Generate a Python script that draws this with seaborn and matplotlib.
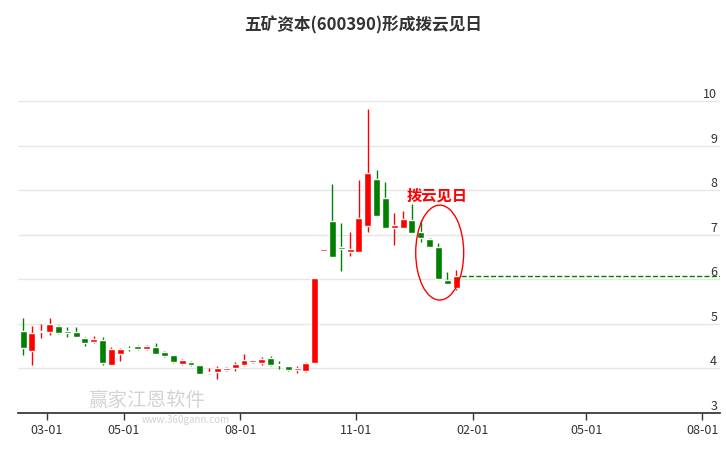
import matplotlib
matplotlib.use("Agg")
import matplotlib.dates as mdates
import matplotlib.pyplot as plt
import numpy as np
import pandas as pd
import seaborn as sns
from matplotlib.patches import Ellipse

sns.set_theme(style="white")
plt.rcParams["font.family"] = ["Noto Sans CJK SC", "DejaVu Sans"]

# weekly candles
dates = pd.date_range("2023-02-10", periods=50, freq="7D")
opens = [4.84, 4.39, 4.82, 4.82, 4.96, 4.84, 4.82, 4.68, 4.60, 4.64,
         4.08, 4.33, 4.46, 4.50, 4.44, 4.48, 4.37, 4.30, 4.10, 4.15,
         4.08, 3.90, 3.92, 3.97, 4.01, 4.08, 4.15, 4.12, 4.24, 4.10,
         4.06, 3.97, 3.94, 4.12, 6.64, 7.31, 6.73, 6.62, 6.62, 7.20,
         8.26, 7.83, 7.16, 7.16, 7.34, 7.07, 6.91, 6.73, 5.99, 5.81]
closes = [4.46, 4.80, 4.85, 5.00, 4.80, 4.80, 4.71, 4.57, 4.66, 4.12,
          4.44, 4.44, 4.44, 4.44, 4.50, 4.33, 4.28, 4.15, 4.19, 4.08,
          3.88, 3.92, 4.01, 4.01, 4.10, 4.19, 4.17, 4.21, 4.08, 4.08,
          3.97, 3.99, 4.12, 6.03, 6.64, 6.51, 6.69, 6.69, 7.38, 8.39,
          7.43, 7.16, 7.22, 7.36, 7.04, 6.93, 6.73, 6.01, 5.90, 6.08]
highs = [5.13, 4.96, 5.00, 5.13, 4.98, 4.93, 4.93, 4.71, 4.73, 4.71,
         4.48, 4.46, 4.50, 4.53, 4.53, 4.57, 4.39, 4.30, 4.21, 4.17,
         4.08, 4.01, 4.06, 4.03, 4.15, 4.33, 4.19, 4.26, 4.28, 4.17,
         4.06, 4.06, 4.15, 6.03, 6.64, 8.15, 7.27, 7.07, 8.24, 9.83,
         8.46, 8.19, 7.49, 7.54, 7.70, 7.34, 6.93, 6.82, 6.17, 6.21]
lows = [4.30, 4.08, 4.68, 4.75, 4.78, 4.70, 4.71, 4.50, 4.57, 4.08,
        4.08, 4.17, 4.40, 4.42, 4.42, 4.33, 4.26, 4.12, 4.08, 4.06,
        3.88, 3.88, 3.76, 3.95, 3.95, 4.06, 4.12, 4.08, 4.06, 3.99,
        3.95, 3.90, 3.92, 4.12, 6.64, 6.51, 6.19, 6.53, 6.62, 7.07,
        7.43, 7.16, 6.78, 7.16, 7.04, 6.84, 6.73, 6.01, 5.90, 5.76]

tick_dates = ["2023-03-01", "2023-05-01", "2023-08-01", "2023-11-01",
              "2024-02-01", "2024-05-01", "2024-08-01"]
tick_labels = ["03-01", "05-01", "08-01", "11-01", "02-01", "05-01", "08-01"]
y_ticks = [3, 4, 5, 6, 7, 8, 9, 10]

RED = "#ff0000"
GREEN = "#008000"

fig = plt.figure(figsize=(7.26, 4.5), dpi=100)
ax = fig.add_axes([18 / 726, 37 / 450, 702 / 726, 352 / 450])

x = mdates.date2num(dates)
o, c, h, l = map(np.array, (opens, closes, highs, lows))
colors = [RED if cc >= oo else GREEN for oo, cc in zip(o, c)]
ax.vlines(x, l, h, colors=colors, linewidth=1, zorder=2)
body = np.maximum(np.abs(c - o), 0.03)
ax.bar(x, body, bottom=np.minimum(o, c), width=5.5, color=colors, zorder=3)

# dashed continuation line from last close
sns.lineplot(x=[x[-1] + 4, mdates.date2num(pd.Timestamp("2024-08-18"))],
             y=[c[-1], c[-1]], ax=ax, color=GREEN, linestyle="--", linewidth=1)

ax.add_patch(Ellipse((x[47] + 1, 6.6), 38, 2.13, fill=False,
                     edgecolor=RED, linewidth=1, zorder=4))
ax.text(x[47] - 1, 7.88, "拨云见日", color=RED, fontsize=11,
        fontweight="bold", ha="center", va="center")

ax.set_xlim(mdates.date2num(pd.Timestamp("2023-02-06")),
            mdates.date2num(pd.Timestamp("2024-08-15")))
ax.set_ylim(3, 10.9)
ax.set_xticks(mdates.date2num(pd.to_datetime(tick_dates)))
ax.set_xticklabels(tick_labels, fontsize=9, color="#333333")
ax.tick_params(axis="x", length=5, width=1, color="#333333", pad=3, bottom=True)

ax.yaxis.tick_right()
ax.set_yticks(y_ticks)
ax.set_yticklabels([str(v) for v in y_ticks], fontsize=9, color="#333333")
ax.tick_params(axis="y", length=0, pad=-2)
for lab in ax.get_yticklabels():
    lab.set_verticalalignment("bottom")
    lab.set_horizontalalignment("right")
ax.grid(axis="y", color="#e6e6e6", linewidth=1)

for side in ("left", "right", "top"):
    ax.spines[side].set_visible(False)
ax.spines["bottom"].set_color("#333333")

# watermark
fig.text(88 / 726, 1 - 400 / 450, "赢家江恩软件", fontsize=14, color="#c8c8c8",
         alpha=0.8, va="center")
fig.text(142 / 726, 1 - 420 / 450, "www.360gann.com", fontsize=7, color="#c8c8c8",
         alpha=0.8, va="center")

fig.suptitle("五矿资本(600390)形成拨云见日", y=1 - 25 / 450, va="center",
             fontsize=12, fontweight="bold", color="#333333")

fig.savefig("out.png", dpi=100)
